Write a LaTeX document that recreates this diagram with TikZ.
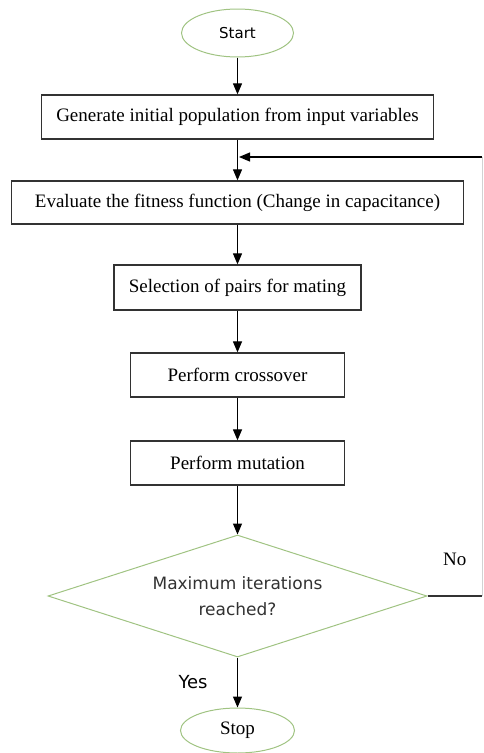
\documentclass[tikz,border=0pt]{standalone}
\usepackage{fontspec}
\setmainfont{Liberation Serif}
\newfontfamily\sansfont{DejaVu Sans}
\usetikzlibrary{arrows.meta}
\usetikzlibrary{shapes.geometric}
\definecolor{termgreen}{RGB}{160,195,130}
\definecolor{boxgray}{RGB}{50,50,50}
\tikzset{
 box/.style={draw=boxgray,line width=1.3pt,rectangle,inner sep=0pt,font=\fontsize{19}{22}\selectfont},
 term/.style={draw=termgreen,line width=1pt,ellipse,inner sep=0pt},
 flow/.style={-{Triangle[length=11pt,width=9pt]},line width=1.2pt},
}

\begin{document}
\begin{tikzpicture}[x=1pt,y=-1pt]
 \useasboundingbox (0,0) rectangle (484,753);
 \node[term,minimum width=112pt,minimum height=48pt,font=\sansfont\fontsize{15}{18}\selectfont] (X1) at (237.5,33) {Start};
 \node[box,minimum width=392pt,minimum height=44pt] (X2) at (237.5,117) {Generate initial population from input variables};
 \node[box,minimum width=452pt,minimum height=43pt] (X3) at (237.5,202.5) {Evaluate the fitness function (Change in capacitance)};
 \node[box,minimum width=247pt,minimum height=45pt] (X4) at (237.5,287.5) {Selection of pairs for mating};
 \node[box,minimum width=214pt,minimum height=44pt] (X5) at (237.5,375) {Perform crossover};
 \node[box,minimum width=214pt,minimum height=44pt] (X6) at (237.5,463) {Perform mutation};
 \node[diamond,draw=termgreen,line width=1pt,aspect=3.1,inner sep=0pt,minimum width=379pt,minimum height=122pt,align=center,text=boxgray,font=\sansfont\fontsize{17}{26}\selectfont] (X7) at (237.5,596) {Maximum iterations\\reached?};
 \node[term,minimum width=114pt,minimum height=45pt,font=\fontsize{19}{22}\selectfont] (X8) at (237.5,730.5) {Stop};
 \coordinate (C1) at (482,596);
 \coordinate (C2) at (482,157);
 \coordinate (C3) at (239,157);
 \draw [flow] (X1) -- (X2);
 \draw [flow] (X2) -- (X3);
 \draw [flow] (X3) -- (X4);
 \draw [flow] (X4) -- (X5);
 \draw [flow] (X5) -- (X6);
 \draw [flow] (X6) -- (X7);
 \draw [flow] (X7) -- (X8) node [midway,left=26pt,font=\sansfont\fontsize{18}{20}\selectfont] {Yes};
 \draw [draw=boxgray,line width=1.2pt] (X7.east) -- (C1) node [midway,above=26pt,font=\fontsize{19}{22}\selectfont] {No};
 \draw [draw=gray!35,line width=0.6pt] (C1) -- (C2);
 \draw [flow] (C2) -- (C3);
\end{tikzpicture}
\end{document}
